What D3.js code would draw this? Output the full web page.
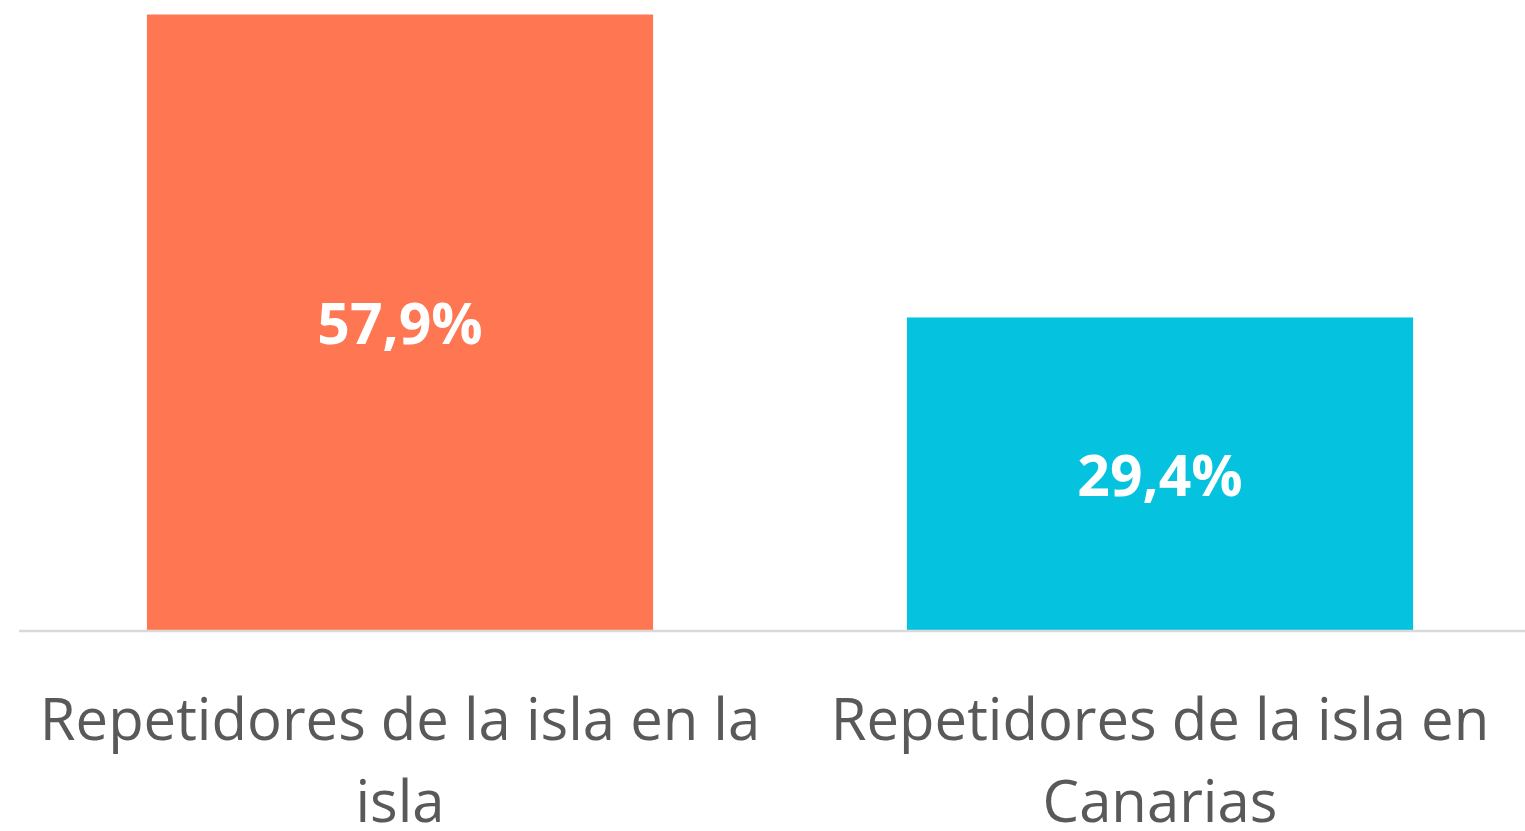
<!DOCTYPE html>
<html>
<head>
<meta charset="utf-8">
<script src="https://cdn.jsdelivr.net/npm/d3@7"></script>
<style>
  html, body { margin: 0; padding: 0; background: #fff; }
  svg { display: block; }
</style>
</head>
<body>
<div id="chart"></div>
<script>
var categories = ["Repetidores de la isla en la isla", "Repetidores de la isla en Canarias"];
var values = [57.9, 29.4];
var colors = ["#FF7752", "#05C3DE"];

var W = 1525, H = 831;
var svg = d3.select("#chart").append("svg")
    .attr("width", W)
    .attr("height", H);

var x = d3.scaleBand()
    .domain(categories)
    .range([20, 1540])
    .paddingInner(0.334)
    .paddingOuter(0.167);

var y = d3.scaleLinear()
    .domain([0, 57.9])
    .range([630, 14.5]);

// bars
svg.selectAll(".bar")
    .data(values)
    .enter()
    .append("rect")
    .attr("class", "bar")
    .attr("x", function(d, i){ return x(categories[i]); })
    .attr("y", function(d){ return y(d); })
    .attr("width", x.bandwidth())
    .attr("height", function(d){ return y(0) - y(d); })
    .style("fill", function(d, i){ return colors[i]; });

// baseline
svg.append("line")
    .attr("x1", 19)
    .attr("x2", W)
    .attr("y1", y(0) + 1)
    .attr("y2", y(0) + 1)
    .style("stroke", "#d9d9d9")
    .style("stroke-width", "2.5px");

// value labels
var fmt = function(v){ return d3.format(".1f")(v).replace(".", ",") + "%"; };
svg.selectAll(".val")
    .data(values)
    .enter()
    .append("text")
    .attr("class", "val")
    .attr("x", function(d, i){ return x(categories[i]) + x.bandwidth()/2; })
    .attr("y", function(d){ return (y(d) + y(0))/2 + 22; })
    .attr("text-anchor", "middle")
    .style("font-family", "'Open Sans', sans-serif")
    .style("font-weight", "bold")
    .style("font-size", "57px")
    .style("fill", "#fff")
    .text(fmt);

// category labels, wrapped
var maxW = 745;
var cat = svg.selectAll(".cat")
    .data(categories)
    .enter()
    .append("text")
    .attr("class", "cat")
    .attr("text-anchor", "middle")
    .style("font-family", "'Open Sans', sans-serif")
    .style("font-size", "58px")
    .style("fill", "#595959");

cat.each(function(d){
  var t = d3.select(this);
  var cx = x(d) + x.bandwidth()/2;
  var words = d.split(" ");
  var lines = [];
  var line = [];
  var tmp = t.append("tspan");
  words.forEach(function(w){
    line.push(w);
    tmp.text(line.join(" "));
    if (tmp.node().getComputedTextLength() > maxW && line.length > 1) {
      line.pop();
      lines.push(line.join(" "));
      line = [w];
    }
  });
  lines.push(line.join(" "));
  tmp.remove();
  lines.forEach(function(l, k){
    t.append("tspan")
      .attr("x", cx)
      .attr("y", 740 + k*82)
      .text(l);
  });
});
</script>
</body>
</html>
